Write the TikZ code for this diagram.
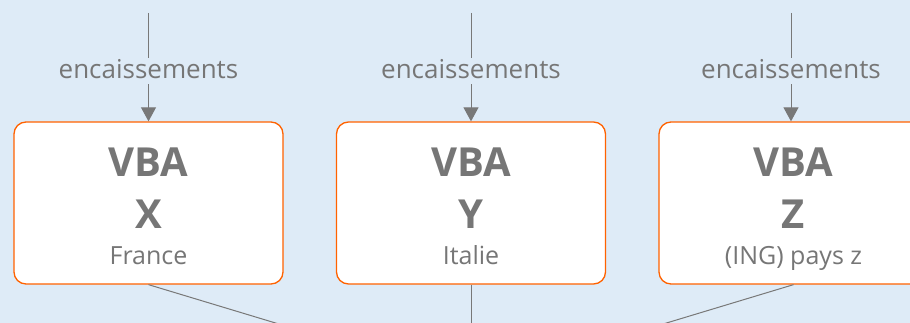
\documentclass[tikz,border=0pt]{standalone}
\usepackage{fontspec}
\setmainfont{Open Sans}
\usetikzlibrary{arrows.meta}
\definecolor{bg}{RGB}{222,235,247}
\definecolor{ingorange}{RGB}{255,98,0}
\definecolor{txtgray}{RGB}{118,118,118}
\definecolor{linegray}{RGB}{120,120,120}
\tikzset{
  vbabox/.style={draw=ingorange, line width=1.3pt, fill=white, rounded corners=12pt,
    minimum width=269pt, minimum height=162pt, inner sep=0pt},
  bigtxt/.style={anchor=base, text=txtgray, font=\fontsize{40}{40}\selectfont\bfseries, inner sep=0pt},
  smalltxt/.style={anchor=base, text=txtgray, font=\fontsize{25}{25}\selectfont, inner sep=0pt},
  flowlabel/.style={fill=bg, text=txtgray, font=\fontsize{26}{26}\selectfont, inner sep=0pt,
    minimum height=26pt, text height=18pt, text depth=2pt},
  conn/.style={draw=linegray, line width=1pt},
  inarrow/.style={conn, -{Triangle[length=14pt,width=15pt]}}
}
\begin{document}
\begin{tikzpicture}[x=1pt,y=-1pt]
\useasboundingbox (0,0) rectangle (910,323);
\clip (0,0) rectangle (910,323);
\fill[bg] (0,0) rectangle (910,323);
% boxes
\node[vbabox] (bx) at (148.5,203) {};
\node[vbabox] (by) at (471,203) {};
\node[vbabox] (bz) at (793.5,203) {};
% box texts
\foreach \b/\l/\s in {bx/X/France, by/Y/Italie, bz/Z/(ING) pays z}{
  \node[bigtxt] (\b-v) at ([yshift=26pt]\b.center) {VBA};
  \node[bigtxt] (\b-l) at ([yshift=-26pt]\b.center) {\l};
  \node[smalltxt] (\b-s) at ([yshift=-61pt]\b.center) {\s};
}
% incoming arrows
\coordinate (tx) at (148.5,13);
\coordinate (ty) at (471,13);
\coordinate (tz) at (791,13);
\coordinate (conv) at (471,382);
\draw[inarrow] (tx) -- (bx.north);
\draw[inarrow] (ty) -- (by.north);
\draw[inarrow] (tz) -- (bz.north -| tz);
\node[flowlabel] (lx) at (148.5,71) {encaissements};
\node[flowlabel] (ly) at (471,71) {encaissements};
\node[flowlabel] (lz) at (791,71) {encaissements};
% outgoing lines
\draw[conn] (bx.south) -- (conv);
\draw[conn] (by.south) -- (conv);
\draw[conn] (bz.south) -- (conv);
\end{tikzpicture}
\end{document}
